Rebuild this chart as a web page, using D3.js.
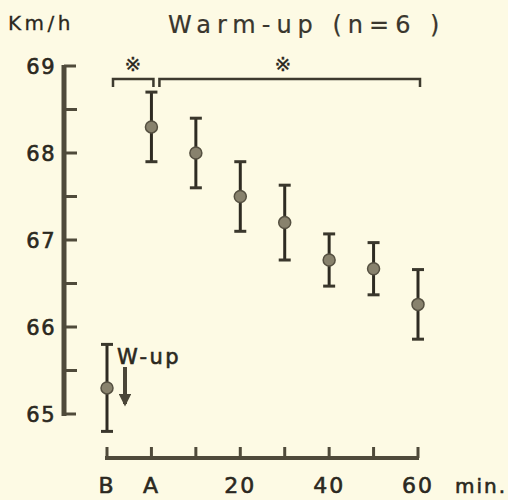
<!DOCTYPE html>
<html>
<head>
<meta charset="utf-8">
<script src="https://cdn.jsdelivr.net/npm/d3@7"></script>
<style>
  html, body { margin: 0; padding: 0; background: #fdfae4; }
  svg text { font-family: "DejaVu Sans", sans-serif; fill: #2b2820; stroke: #2b2820; stroke-width: 0.6px; }
</style>
</head>
<body>
<div id="chart"></div>
<script>
// warm-up speed, mean +- SD
const categories = ["B", "A", "10", "20", "30", "40", "50", "60"];
const tickLabels = ["B", "A", "", "20", "", "40", "", "60"];
const means = [65.3, 68.3, 68.0, 67.5, 67.2, 66.77, 66.67, 66.26];
const errors = [0.5, 0.4, 0.4, 0.4, 0.43, 0.3, 0.3, 0.4];
const yTicks = [65, 65.5, 66, 66.5, 67, 67.5, 68, 68.5, 69];
const yLabels = [65, 66, 67, 68, 69];
// significance brackets (from / to category)
const brackets = [
  { from: "B", to: "A", label: "※" },
  { from: "A", to: "60", label: "※" }
];

const width = 508, height = 500;
const axisColor = '#4f4a3a';

const svg = d3.select('#chart').append('svg')
  .attr('width', width)
  .attr('height', height);

svg.append('rect')
  .attr('width', width).attr('height', height)
  .attr('fill', '#fdfae4');

var x = d3.scalePoint()
  .domain(categories)
  .range([107, 418]);

var y = d3.scaleLinear()
  .domain([65, 69])
  .range([414, 66]);

const data = categories.map((c, i) => ({ cat: c, mean: means[i], err: errors[i] }));

// y axis
const axisX = 64;
svg.append('line')
  .attr('x1', axisX).attr('x2', axisX)
  .attr('y1', y(69) - 1).attr('y2', y(65) + 2)
  .attr('stroke', axisColor).attr('stroke-width', 5);

svg.selectAll('.ytick')
  .data(yTicks)
  .enter()
  .append('line')
  .attr('x1', axisX)
  .attr('x2', (d) => (d === 65 || d === 69) ? axisX + 12 : axisX + 13)
  .attr('y1', (d) => y(d))
  .attr('y2', (d) => y(d))
  .attr('stroke', axisColor)
  .attr('stroke-width', 3);

svg.selectAll('.ylabel')
  .data(yLabels)
  .enter()
  .append('text')
  .attr('x', 56)
  .attr('y', (d) => y(d) + 8)
  .attr('text-anchor', 'end')
  .style('font-size', '21px')
  .style('letter-spacing', '1.5px')
  .text((d) => d);

// x axis
const axisY = 458;
svg.append('line')
  .attr('x1', x('B') - 2).attr('x2', x('60') + 1)
  .attr('y1', axisY).attr('y2', axisY)
  .attr('stroke', axisColor).attr('stroke-width', 4);

svg.selectAll('.xtick')
  .data(categories)
  .enter()
  .append('line')
  .attr('x1', (d) => x(d)).attr('x2', (d) => x(d))
  .attr('y1', axisY).attr('y2', axisY - 11)
  .attr('stroke', axisColor)
  .attr('stroke-width', 3);

svg.selectAll('.xlabel')
  .data(categories)
  .enter()
  .append('text')
  .attr('x', (d) => x(d))
  .attr('y', 493)
  .attr('text-anchor', 'middle')
  .style('font-size', '22px')
  .style('letter-spacing', '2px')
  .text((d, i) => tickLabels[i]);

svg.append('text')
  .attr('x', 455).attr('y', 493)
  .style('font-size', '20px')
  .style('letter-spacing', '2px')
  .text('min.');

// error bars
const bars = svg.selectAll('.bar')
  .data(data)
  .enter()
  .append('g');

bars.append('line')
  .attr('x1', (d) => x(d.cat)).attr('x2', (d) => x(d.cat))
  .attr('y1', (d) => y(d.mean + d.err))
  .attr('y2', (d) => y(d.mean - d.err))
  .attr('stroke', '#2e2b22').attr('stroke-width', 3);

bars.selectAll('.cap')
  .data((d) => [d.mean + d.err, d.mean - d.err].map((v) => ({ cat: d.cat, v: v })))
  .enter()
  .append('line')
  .attr('x1', (d) => x(d.cat) - 6).attr('x2', (d) => x(d.cat) + 6)
  .attr('y1', (d) => y(d.v)).attr('y2', (d) => y(d.v))
  .attr('stroke', '#3a372c').attr('stroke-width', 3);

bars.append('circle')
  .attr('cx', (d) => x(d.cat))
  .attr('cy', (d) => y(d.mean))
  .attr('r', 6)
  .attr('fill', '#88826d')
  .attr('stroke', '#555041')
  .attr('stroke-width', 1.5);

// brackets
const bTop = 79;
brackets.forEach((b, i) => {
  const x0 = i === 0 ? x(b.from) + 6 : x(b.from) + 8;
  const x1 = x(b.to) + 2;
  svg.append('path')
    .attr('d', `M${x0},${bTop + 8}V${bTop}H${x1}V${bTop + 8}`)
    .attr('fill', 'none')
    .attr('stroke', '#3d3a2e')
    .attr('stroke-width', 2.5);
  svg.append('text')
    .attr('x', i === 0 ? 133 : 283)
    .attr('y', 71)
    .attr('text-anchor', 'middle')
    .style('font-size', '20px')
    .style('stroke-width', '0.3px')
    .text(b.label);
});

// warm-up annotation
svg.append('text')
  .attr('x', 117).attr('y', 364)
  .style('font-size', '21px')
  .style('letter-spacing', '2.5px')
  .text('W-up');

svg.append('defs').append('marker')
  .attr('id', 'arrow')
  .attr('viewBox', '0 0 10 10')
  .attr('refX', 8).attr('refY', 5)
  .attr('markerWidth', 3.2).attr('markerHeight', 3.2)
  .attr('orient', 'auto')
  .append('path')
  .attr('d', 'M0,0L10,5L0,10z')
  .attr('fill', '#4a4638');

svg.append('line')
  .attr('x1', 125).attr('x2', 125)
  .attr('y1', 367).attr('y2', 404)
  .attr('stroke', '#4a4638').attr('stroke-width', 4)
  .attr('marker-end', 'url(#arrow)');

// titles
svg.append('text')
  .attr('x', 8).attr('y', 30)
  .style('font-size', '20px')
  .style('letter-spacing', '3.5px')
  .style('stroke-width', '0.3px')
  .text('Km/h');

svg.append('text')
  .attr('x', 168).attr('y', 33)
  .style('font-size', '24px')
  .style('letter-spacing', '6px')
  .style('fill', '#3a372e')
  .style('stroke-width', '0.2px')
  .text('Warm-up (n=6 )');
</script>
</body>
</html>
